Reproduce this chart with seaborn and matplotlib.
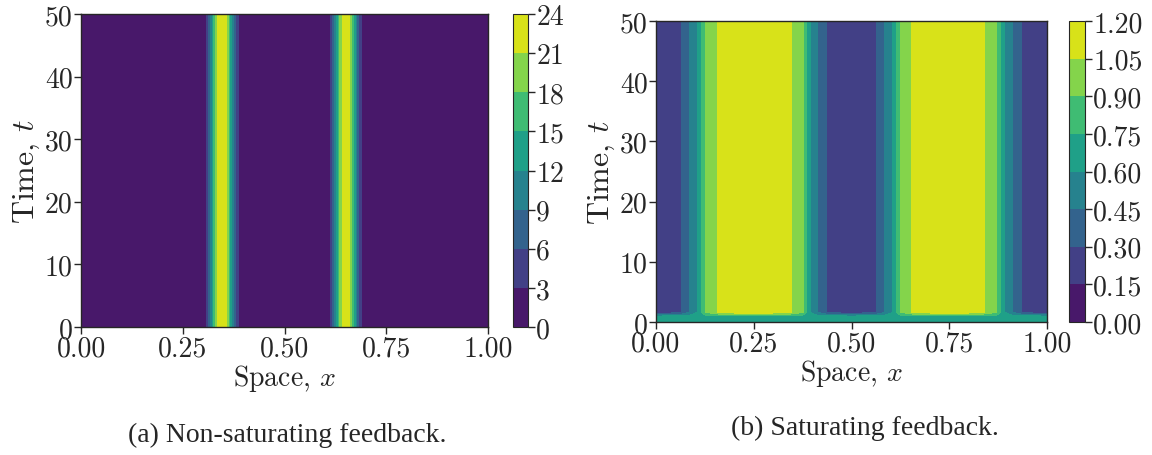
import numpy as np
import matplotlib
matplotlib.use("Agg")
import matplotlib.pyplot as plt
import seaborn as sns

sns.set_style("ticks")
plt.rcParams['font.family'] = 'serif'
plt.rcParams['font.serif'] = ['cmr10', 'DejaVu Serif']
plt.rcParams['mathtext.fontset'] = 'cm'
plt.rcParams['axes.formatter.use_mathtext'] = True
plt.rcParams['axes.unicode_minus'] = False

# --- (a) non-saturating feedback: profile across x, same for all t ---
x_a = [0.0, 0.295, 0.307, 0.314, 0.320, 0.326, 0.332, 0.338, 0.345, 0.352, 0.358,
       0.364, 0.370, 0.376, 0.382, 0.388, 0.400,
       0.600, 0.613, 0.619, 0.625, 0.631, 0.639, 0.645, 0.652, 0.658, 0.662,
       0.668, 0.674, 0.679, 0.685, 0.692, 0.710, 1.0]
u_a = [0.5, 0.6, 3.2, 7.0, 11.0, 15.5, 20.5, 23.3, 23.9, 23.3, 21.0,
       17.0, 12.5, 8.5, 5.0, 2.8, 0.6,
       0.6, 3.2, 7.0, 11.0, 15.5, 20.5, 23.3, 23.9, 23.3, 21.0,
       17.0, 12.5, 8.5, 5.0, 2.8, 0.6, 0.5]
t_a = [0.0, 50.0]
levels_a = [0, 3, 6, 9, 12, 15, 18, 21, 24]

# --- (b) saturating feedback: flat start, then steady profile ---
x_b = [0.0, 0.030, 0.055, 0.066, 0.085, 0.106, 0.116, 0.126, 0.157, 0.200, 0.250,
       0.300, 0.347, 0.376, 0.386, 0.394, 0.413, 0.435, 0.450, 0.500,
       0.550, 0.565, 0.585, 0.605, 0.615, 0.625, 0.654, 0.700, 0.750, 0.800,
       0.841, 0.872, 0.882, 0.892, 0.912, 0.934, 0.950, 0.970, 1.0]
u_b_steady = [0.22, 0.23, 0.25, 0.30, 0.45, 0.60, 0.75, 0.90, 1.05, 1.12, 1.14,
              1.12, 1.05, 0.90, 0.75, 0.60, 0.45, 0.30, 0.25, 0.22,
              0.25, 0.30, 0.45, 0.60, 0.75, 0.90, 1.05, 1.12, 1.14, 1.12,
              1.05, 0.90, 0.75, 0.60, 0.45, 0.30, 0.25, 0.23, 0.22]
u_b_start = 0.66
t_b = [0.0, 0.9, 1.6, 50.0]
levels_b = [0.00, 0.15, 0.30, 0.45, 0.60, 0.75, 0.90, 1.05, 1.20]

x_ticks = [0.00, 0.25, 0.50, 0.75, 1.00]
t_ticks = [0, 10, 20, 30, 40, 50]

cmap = sns.color_palette("viridis", as_cmap=True)

Z_a = np.vstack([u_a, u_a])
start_row = np.full(len(x_b), u_b_start)
Z_b = np.vstack([start_row, start_row, u_b_steady, u_b_steady])

fig = plt.figure(figsize=(11.52, 4.56), dpi=100)
W, H = 1152, 456


def px_axes(x0, y0, x1, y1):
    return fig.add_axes([x0 / W, (H - y1) / H, (x1 - x0) / W, (y1 - y0) / H])


ax_a = px_axes(81, 15, 488, 328)
cax_a = px_axes(513, 15, 528, 328)
ax_b = px_axes(656, 22, 1047, 323)
cax_b = px_axes(1069, 22, 1085, 323)

fs = 20
panels = [(ax_a, cax_a, x_a, t_a, Z_a, levels_a, [str(v) for v in levels_a]),
          (ax_b, cax_b, x_b, t_b, Z_b, levels_b, ["%.2f" % v for v in levels_b])]

for ax, cax, xs, ts, Z, lev, lev_labels in panels:
    cf = ax.contourf(xs, ts, Z, levels=lev, cmap=cmap)
    ax.set_xlim(0, 1)
    ax.set_ylim(0, 50)
    ax.set_xticks(x_ticks)
    ax.set_xticklabels(["%.2f" % v for v in x_ticks])
    ax.set_yticks(t_ticks)
    ax.set_yticklabels([str(v) for v in t_ticks])
    ax.tick_params(labelsize=fs, length=5, width=1, pad=1)
    ax.set_xlabel("Space, $x$", fontsize=fs, labelpad=0)
    ax.set_ylabel("Time, $t$", fontsize=23, labelpad=2)
    for sp in ax.spines.values():
        sp.set_linewidth(1.0)
    cb = fig.colorbar(cf, cax=cax, ticks=lev)
    cb.ax.set_yticklabels(lev_labels)
    cb.ax.tick_params(labelsize=fs, length=5, width=1, pad=1)
    cb.outline.set_linewidth(0.8)

fig.text(287 / W, 1 - 435 / H, "(a) Non-saturating feedback.", ha="center", va="center",
         fontsize=20, family="Liberation Serif")
fig.text(865 / W, 1 - 428 / H, "(b) Saturating feedback.", ha="center", va="center",
         fontsize=20, family="Liberation Serif")

fig.savefig("out.png", dpi=100)
